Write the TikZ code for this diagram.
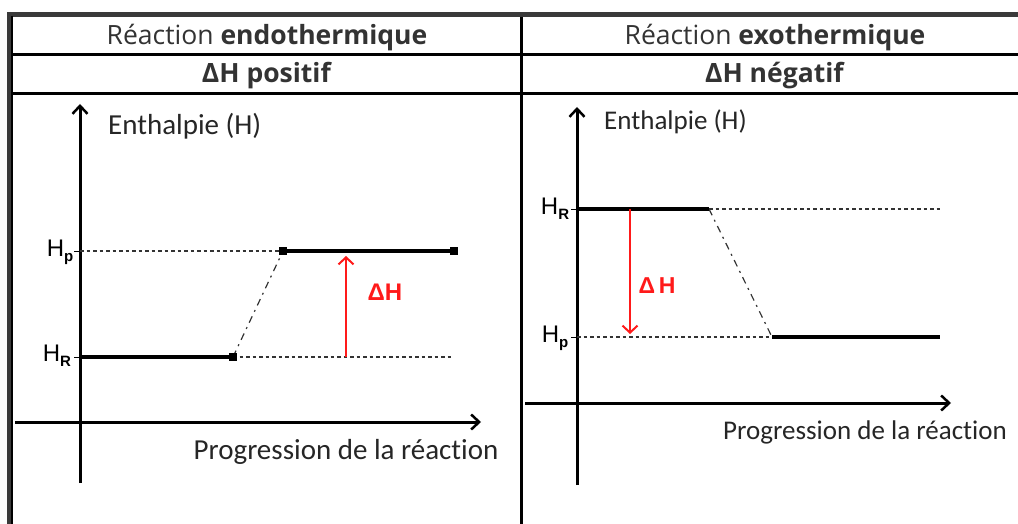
\documentclass[tikz,border=0pt]{standalone}
\usepackage{fontspec}
\setmainfont{Open Sans}
\newfontfamily\calfont[Ligatures=NoCommon]{Carlito}
\newfontfamily\hfont{Liberation Sans}
\usetikzlibrary{arrows.meta}
\definecolor{framegray}{HTML}{3A3A3A}
\definecolor{txtgray}{HTML}{333333}
\definecolor{dhred}{HTML}{FF1A1A}
\begin{document}
\begin{tikzpicture}[x=1pt,y=-1pt,
  axisline/.style={line width=3pt,-{Straight Barb[length=8pt,width=15pt,line width=2.5pt]}},
  level/.style={line width=3.5pt},
  guide/.style={line width=1.2pt,draw=black!80,dash pattern=on 3.5pt off 3pt},
  trans/.style={line width=1.2pt,draw=black!80,dash pattern=on 7pt off 5pt on 2pt off 5pt},
  dharrow/.style={line width=2pt,draw=dhred,-{Straight Barb[length=7pt,width=15pt,line width=2pt]}},
  sq/.style={fill=black,minimum size=8pt,inner sep=0pt,draw=none},
  title/.style={text=txtgray,inner sep=0pt,anchor=base,font=\fontsize{26.5}{30}\selectfont},
  axlabel/.style={inner sep=0pt,text=black!85,font=\calfont\fontsize{29}{32}\selectfont},
  hlabel/.style={inner sep=0pt,font=\hfont\fontsize{24}{26}\selectfont},
  dhlabel/.style={inner sep=0pt,text=dhred,font=\hfont\bfseries\fontsize{24}{26}\selectfont},
  tick/.style={line width=1pt}
]
\useasboundingbox (0,0) rectangle (1018,524);
\fill[white] (0,0) rectangle (1018,524);
% table frame
\draw[framegray,line width=5pt] (7,14.5) -- (1018,14.5);
\draw[framegray,line width=4pt] (9,12) -- (9,524);
\draw[black,line width=2pt] (12,16) -- (12,524);
\draw[black,line width=3pt] (12,54.5) -- (1018,54.5);
\draw[black,line width=3pt] (12,93.5) -- (1018,93.5);
\draw[black,line width=3pt] (521.5,17) -- (521.5,524);
% titles
\node[title] (t1) at (267,45) {Réaction \textbf{endothermique}};
\node[title] (s1) at (267,83) {\textbf{ΔH positif}};
\node[title] (t2) at (775,45) {Réaction \textbf{exothermique}};
\node[title] (s2) at (775,83) {\textbf{ΔH négatif}};
% ---------- left chart
\coordinate (yb1) at (80,483); \coordinate (yt1) at (80,104);
\coordinate (xl1) at (15,422); \coordinate (xr1) at (481,422);
\draw[axisline] (yb1) -- (yt1);
\draw[axisline] (xl1) -- (xr1);
\coordinate (r1a) at (80,357); \coordinate (r1b) at (233,357); \coordinate (r1c) at (453,357);
\coordinate (p1a) at (80,251); \coordinate (p1b) at (283,251); \coordinate (p1c) at (454,251);
\coordinate (r1t) at (74,357); \coordinate (p1t) at (74,251);
\draw[tick] (r1t) -- (r1a); \draw[tick] (p1t) -- (p1a);
\draw[guide] (r1b) -- (r1c);
\draw[guide] (p1a) -- (p1b);
\draw[trans] (r1b) -- (p1b);
\draw[level] (r1a) -- (r1b);
\draw[level] (p1b) -- (p1c);
\node[sq] (m1) at (r1b) {};
\node[sq] (m2) at (p1b) {};
\node[sq] (m3) at (p1c) {};
\coordinate (a1s) at (346,357); \coordinate (a1e) at (346,256);
\draw[dharrow] (a1s) -- (a1e);
\node[dhlabel] (dh1) at (385,292) {ΔH};
\node[hlabel] (hr1) at (57,356) {H\raisebox{-5pt}{\fontsize{15}{15}\selectfont\bfseries R}};
\node[hlabel] (hp1) at (60,252) {H\raisebox{-5pt}{\fontsize{15}{15}\selectfont\bfseries p}};
\node[axlabel,anchor=west] (en1) at (108,126) {Enthalpie (H)};
\node[axlabel] (pr1) at (346,452) {Progression de la réaction};
% ---------- right chart
\coordinate (yb2) at (577,485); \coordinate (yt2) at (577,107);
\coordinate (xl2) at (525,403); \coordinate (xr2) at (951,403);
\draw[axisline] (yb2) -- (yt2);
\draw[axisline] (xl2) -- (xr2);
\coordinate (r2a) at (577,209); \coordinate (r2b) at (709,209); \coordinate (r2c) at (940,209);
\coordinate (p2a) at (577,337); \coordinate (p2b) at (772,337); \coordinate (p2c) at (940,337);
\coordinate (r2t) at (571,209); \coordinate (p2t) at (571,337);
\draw[tick] (r2t) -- (r2a); \draw[tick] (p2t) -- (p2a);
\draw[guide] (r2b) -- (r2c);
\draw[guide] (p2a) -- (p2b);
\draw[trans] (r2b) -- (p2b);
\draw[level] (r2a) -- (r2b);
\draw[level] (p2b) -- (p2c);
\coordinate (a2s) at (630,209); \coordinate (a2e) at (630,334);
\draw[dharrow] (a2s) -- (a2e);
\node[dhlabel,font=\hfont\bfseries\fontsize{23}{26}\selectfont] (dh2) at (657,286) {Δ\,H};
\node[hlabel] (hr2) at (555,209) {H\raisebox{-5pt}{\fontsize{15}{15}\selectfont\bfseries R}};
\node[hlabel] (hp2) at (555,338) {H\raisebox{-5pt}{\fontsize{15}{15}\selectfont\bfseries p}};
\node[axlabel,anchor=west,font=\calfont\fontsize{27}{30}\selectfont] (en2) at (604,122) {Enthalpie (H)};
\node[axlabel,font=\calfont\fontsize{27}{30}\selectfont] (pr2) at (865,432) {Progression de la réaction};
\end{tikzpicture}
\end{document}
